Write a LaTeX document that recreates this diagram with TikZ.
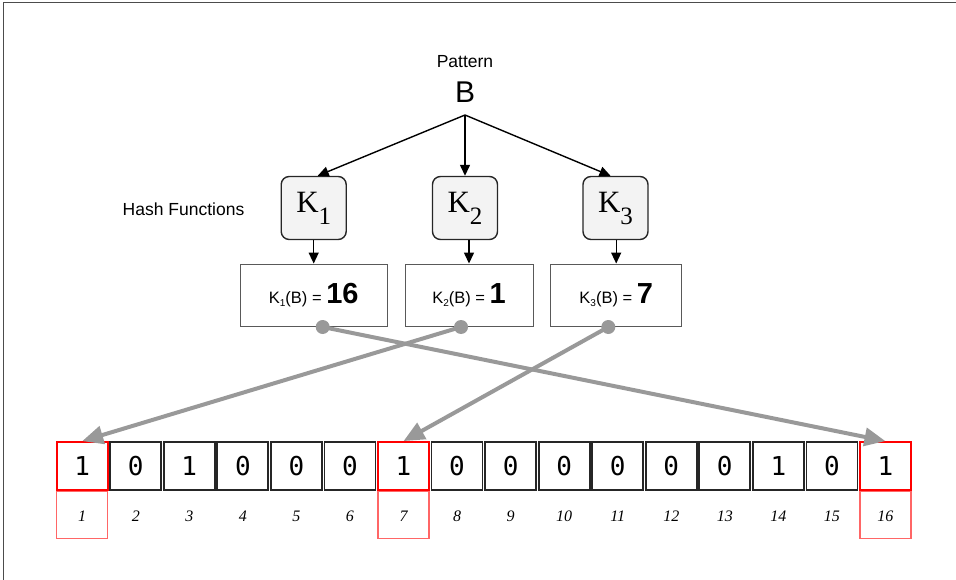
\documentclass[tikz,border=0pt]{standalone}
\usepackage{fontspec}
\setmainfont{Liberation Sans}
\newfontfamily\serifK{Liberation Serif}
\newfontfamily\monof{DejaVu Sans Mono}
\usetikzlibrary{arrows.meta}
\definecolor{arrowgray}{HTML}{999999}
\definecolor{boxfill}{HTML}{F3F3F3}
\begin{document}
\begin{tikzpicture}[x=1pt,y=-1pt,
  hashbox/.style={draw=black!85, line width=1.4pt, fill=boxfill, rounded corners=8pt,
    minimum width=65pt, minimum height=63pt, inner sep=0pt},
  valbox/.style={draw=black!65, line width=0.9pt, minimum height=62pt, inner sep=0pt},
  cellbox/.style={draw=black!85, line width=1.8pt, minimum width=51pt, minimum height=48pt,
    inner sep=0pt, font=\monof\fontsize{26}{26}\selectfont},
  redcell/.style={cellbox, draw=red},
  idxbox/.style={draw=red!60, line width=1.1pt, minimum width=51pt, minimum height=47pt, inner sep=0pt},
  idx/.style={font=\serifK\itshape\fontsize{16}{16}\selectfont},
  blackarrow/.style={-{Triangle[length=11pt,width=10pt]}, line width=1.4pt, black},
  grayarrow/.style={-{Triangle[length=21pt,width=18pt]}, line width=4pt, arrowgray},
  dot/.style={circle, fill=arrowgray, minimum size=14pt, inner sep=0pt},
  lbl/.style={font=\fontsize{17.5}{20}\selectfont}
]
\useasboundingbox (0,0) rectangle (956,580);
\draw[line width=1pt, black!70] (3,580) -- (3,3) -- (956,3);

% top
\node[lbl] (pattern) at (465,62) {Pattern};
\node[font=\fontsize{30}{30}\selectfont] (B) at (465,92) {B};
\coordinate (split) at (465,115);
\node[lbl] (hash) at (183.5,209) {Hash Functions};

\newcommand{\Klab}[1]{\serifK\fontsize{31}{31}\selectfont K\raisebox{-12pt}{\fontsize{25}{25}\selectfont #1}}
\node[hashbox] (k1) at (313.7,208) {\Klab{1}};
\node[hashbox] (k2) at (465,208) {\Klab{2}};
\node[hashbox] (k3) at (615.5,208) {\Klab{3}};

\draw[blackarrow] (split) -- ([xshift=4pt]k1.north);
\draw[blackarrow] (split) -- (k2.north);
\draw[blackarrow] (split) -- ([xshift=-5pt]k3.north);

\newcommand{\Vlab}[2]{\fontsize{16.5}{18}\selectfont K\raisebox{-3.5pt}{\fontsize{10}{10}\selectfont #1}(B) = {\bfseries\fontsize{29}{29}\selectfont #2}}
\node[valbox, minimum width=147pt] (v1) at (313.7,295) {\raisebox{-2pt}{\Vlab{1}{16}}};
\node[valbox, minimum width=128pt] (v2) at (469,295) {\raisebox{-2pt}{\Vlab{2}{1}}};
\node[valbox, minimum width=131pt] (v3) at (616.2,295) {\raisebox{-2pt}{\Vlab{3}{7}}};

\draw[blackarrow] (k1.south) -- (v1.north);
\draw[blackarrow] (k2.south -| v2.north) -- (v2.north);
\draw[blackarrow] (k3.south -| v3.north) -- (v3.north);

% bit array
\foreach \i/\v in {1/1,2/0,3/1,4/0,5/0,6/0,7/1,8/0,9/0,10/0,11/0,12/0,13/0,14/1,15/0,16/1}{
  \pgfmathsetmacro{\cx}{82.2+(\i-1)*53.55}
  \node[cellbox] (c\i) at (\cx,466) {\v};
  \node[idx] (n\i) at (\cx,516) {\i};
}
\foreach \i in {1,7,16}{
  \node[redcell] (r\i) at (c\i) {};
  \node[idxbox, anchor=north] (b\i) at (c\i.south) {};
}

% dots and gray arrows
\node[dot] (d1) at (322.7,327) {};
\node[dot] (d2) at (461,327) {};
\node[dot] (d3) at (608.3,327) {};
\draw[grayarrow] (d1.center) -- (c16.north);
\draw[grayarrow] (d2.center) -- (c1.north);
\draw[grayarrow] (d3.center) -- (c7.north);
\end{tikzpicture}
\end{document}
